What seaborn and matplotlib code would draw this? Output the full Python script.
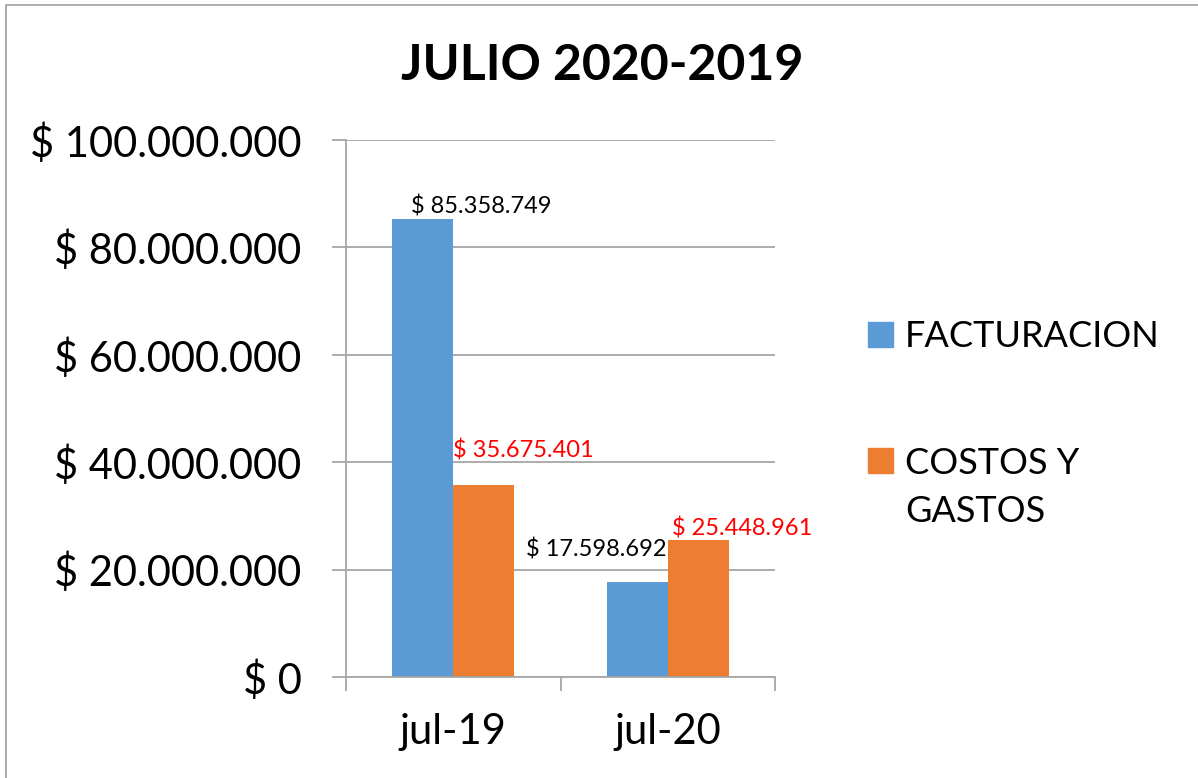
import matplotlib
matplotlib.use("Agg")  # headless
import matplotlib.pyplot as plt
import matplotlib.ticker as mticker
from matplotlib.patches import Rectangle
import seaborn as sns
import pandas as pd

meses = ["jul-19", "jul-20"]
facturacion = [85358749, 17598692]
costos_gastos = [35675401, 25448961]
series = ["FACTURACION", "COSTOS Y GASTOS"]
etiquetas_leyenda = ["FACTURACION", "COSTOS Y\nGASTOS"]
colores = ["#5B9BD5", "#ED7D31"]
color_etiquetas = ["black", "#FF0000"]
y_ticks = [0, 20_000_000, 40_000_000, 60_000_000, 80_000_000, 100_000_000]

df = pd.DataFrame({
    "mes": meses * 2,
    "valor": facturacion + costos_gastos,
    "serie": [series[0]] * len(meses) + [series[1]] * len(meses),
})


def pesos(v, pos=None):
    return "$ " + f"{v:,.0f}".replace(",", ".")


sns.set_theme(style="white")
plt.rcParams["font.family"] = ["Lato", "DejaVu Sans"]
plt.rcParams["text.color"] = "black"
plt.rcParams["xtick.labelcolor"] = "black"
plt.rcParams["ytick.labelcolor"] = "black"

W, H = 1198, 778
fig = plt.figure(figsize=(W / 100, H / 100), dpi=100)
ax = fig.add_axes([346 / W, 1 - 677 / H, (775 - 346) / W, (677 - 140) / H])

sns.barplot(data=df, x="mes", y="valor", hue="serie", hue_order=series,
            palette=colores, width=0.57, gap=0, saturation=1, linewidth=0,
            ax=ax, legend=False)

grid_c = "#a6a6a6"
ax.set_ylim(0, 100_000_000)
ax.set_xlim(-0.5, len(meses) - 0.5)
ax.set_yticks(y_ticks)
ax.yaxis.set_major_formatter(mticker.FuncFormatter(pesos))
ax.yaxis.grid(True, color=grid_c, lw=1.3)
ax.set_axisbelow(True)
ax.set_xlabel("")
ax.set_ylabel("")
for s in ["top", "right"]:
    ax.spines[s].set_visible(False)
for s in ["left", "bottom"]:
    ax.spines[s].set_color(grid_c)
    ax.spines[s].set_linewidth(1.3)
ax.tick_params(axis="y", which="major", length=10, width=1.3, color=grid_c,
               labelsize=30, pad=22, left=True, labelcolor="black")
ax.tick_params(axis="x", which="major", length=0, labelsize=30, pad=26, labelcolor="black")
ax.set_xticks([i - 0.5 for i in range(len(meses) + 1)], minor=True)
ax.tick_params(axis="x", which="minor", length=10, width=1.3, color=grid_c, bottom=True)

# etiquetas de datos (posiciones manuales como en el original)
offsets = {
    (0, 0): ("left", 13.7, 3.6),
    (0, 1): ("right", -0.7, 18.7),
    (1, 0): ("left", 0, 20),
    (1, 1): ("left", 3, 3.6),
}
for si, cont in enumerate(ax.containers):
    for mi, bar in enumerate(cont):
        ha, dx, dy = offsets[(si, mi)]
        x0 = bar.get_x() if ha == "left" else bar.get_x() + bar.get_width()
        ax.annotate(pesos(bar.get_height()), (x0, bar.get_height()),
                    xytext=(dx, dy), textcoords="offset points",
                    ha=ha, va="baseline", fontsize=17, color=color_etiquetas[si])

fig.text(0.503, 1 - 80 / H, "JULIO 2020-2019", ha="center", va="baseline",
         fontsize=36, fontweight="bold", color="black")

# leyenda
for i, (lab, col) in enumerate(zip(etiquetas_leyenda, colores)):
    base = [347, 473][i]
    n_extra = lab.count("\n")
    fig.add_artist(Rectangle((868 / W, 1 - base / H), 25 / W, 25 / H,
                             transform=fig.transFigure, color=col))
    fig.text(905 / W, 1 - (base + 49 * n_extra) / H, lab, ha="left", va="baseline",
             fontsize=26, linespacing=1.55, color="black")

# borde
fig.add_artist(Rectangle((6 / W, -0.1), 2, 1.1 - 5 / H, transform=fig.transFigure,
                         fill=False, edgecolor="#a0a0a0", lw=1.2))

plt.savefig("out.png", dpi=100)
